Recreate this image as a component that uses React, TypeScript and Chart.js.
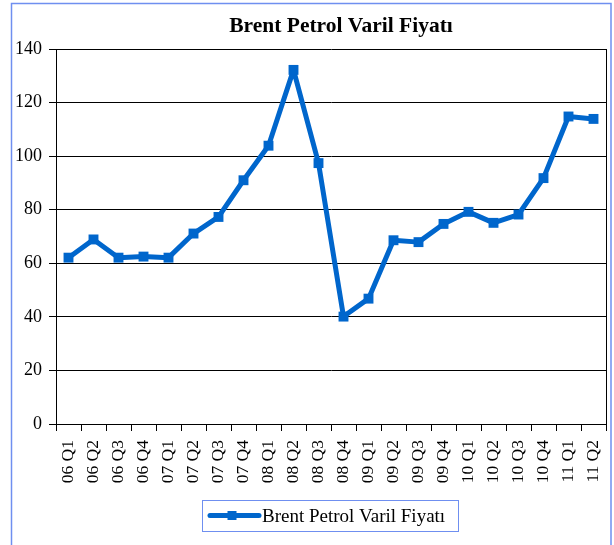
import React, { useEffect, useRef } from "react";
import { Chart, registerables } from "chart.js";

Chart.register(...registerables);

const TITLE = "Brent Petrol Varil Fiyatı";
const SERIES_NAME = "Brent Petrol Varil Fiyatı";
const categories = [
  "06 Q1", "06 Q2", "06 Q3", "06 Q4",
  "07 Q1", "07 Q2", "07 Q3", "07 Q4",
  "08 Q1", "08 Q2", "08 Q3", "08 Q4",
  "09 Q1", "09 Q2", "09 Q3", "09 Q4",
  "10 Q1", "10 Q2", "10 Q3", "10 Q4",
  "11 Q1", "11 Q2",
];
const prices = [
  62.1, 68.9, 62.1, 62.5,
  62.1, 71.1, 77.3, 91.0,
  103.9, 132.2, 97.4, 40.1,
  46.8, 68.6, 67.9, 74.7,
  79.2, 75.1, 78.2, 91.8,
  114.8, 113.9,
];
const yMin = 0;
const yMax = 140;
const yStep = 20;

const LINE_COLOR = "#0066cc";
const FRAME_COLOR = "#6f8ff0";
const FONT = "'Liberation Serif', 'Times New Roman', serif";

const decorPlugin = {
  id: "decor",
  afterDraw(chart: any) {
    const ctx = chart.ctx;
    const { chartArea } = chart;
    ctx.save();
    // outer frame
    ctx.strokeStyle = FRAME_COLOR;
    ctx.lineWidth = 1.5;
    ctx.beginPath();
    ctx.moveTo(11.5, 545);
    ctx.lineTo(11.5, 3.5);
    ctx.lineTo(611, 3.5);
    ctx.lineTo(611, 545);
    ctx.stroke();

    // right plot border
    ctx.strokeStyle = "#000";
    ctx.lineWidth = 1;
    const rx = Math.round(chartArea.right) + 0.5;
    ctx.beginPath();
    ctx.moveTo(rx, chartArea.top);
    ctx.lineTo(rx, chartArea.bottom);
    ctx.stroke();

    // title
    ctx.fillStyle = "#000";
    ctx.font = "bold 21.5px " + FONT;
    ctx.textAlign = "center";
    ctx.textBaseline = "alphabetic";
    ctx.fillText(TITLE, 341, 32);

    // legend
    ctx.strokeStyle = FRAME_COLOR;
    ctx.lineWidth = 1;
    ctx.strokeRect(202.5, 500.5, 256, 31);
    ctx.strokeStyle = LINE_COLOR;
    ctx.lineWidth = 5;
    ctx.lineCap = "round";
    ctx.beginPath();
    ctx.moveTo(210, 515.5);
    ctx.lineTo(259, 515.5);
    ctx.stroke();
    ctx.fillStyle = LINE_COLOR;
    ctx.fillRect(227.5, 511, 9, 9);
    ctx.fillStyle = "#000";
    ctx.font = "19px " + FONT;
    ctx.textAlign = "left";
    ctx.textBaseline = "middle";
    ctx.fillText(SERIES_NAME, 262, 517);
    ctx.restore();
  },
};

export default function App() {
  const ref = useRef<HTMLCanvasElement>(null);
  useEffect(() => {
    if (!ref.current) return;
    const chart = new Chart(ref.current, {
      type: "line",
      data: {
        labels: categories,
        datasets: [
          {
            label: SERIES_NAME,
            data: prices,
            borderColor: LINE_COLOR,
            backgroundColor: LINE_COLOR,
            borderWidth: 5,
            borderJoinStyle: "round",
            tension: 0,
            pointStyle: "rect",
            pointRadius: 7,
            pointBorderWidth: 0,
            pointBackgroundColor: LINE_COLOR,
            fill: false,
          },
        ],
      },
      options: {
        animation: false,
        responsive: false,
        maintainAspectRatio: false,
        layout: { padding: { top: 49, left: 0, right: 8, bottom: 51 } },
        plugins: {
          legend: { display: false },
          title: { display: false },
          tooltip: { enabled: false },
        },
        scales: {
          x: {
            type: "category",
            offset: true,
            grid: {
              offset: true,
              drawOnChartArea: false,
              drawTicks: true,
              tickLength: 7,
              color: "#000",
            },
            border: { display: true, color: "#000", width: 1 },
            ticks: {
              autoSkip: false,
              maxRotation: 90,
              minRotation: 90,
              padding: 9,
              color: "#000",
              font: { family: FONT, size: 17.5 },
            },
            afterFit(scale: any) {
              scale.height = 70;
              scale.paddingLeft = 0;
              scale.paddingRight = 0;
            },
          },
          y: {
            min: yMin,
            max: yMax,
            grid: {
              color: "#000",
              lineWidth: 1,
              drawTicks: true,
              tickLength: 7,
            },
            border: { display: true, color: "#000", width: 1 },
            ticks: {
              stepSize: yStep,
              padding: 7,
              color: "#000",
              font: { family: FONT, size: 18 },
            },
            afterFit(scale: any) {
              scale.width = 56;
            },
          },
        },
      },
      plugins: [decorPlugin],
    });
    return () => chart.destroy();
  }, []);
  return (
    <div style={{ position: "fixed", left: 0, top: 0, width: 614, height: 545, background: "#fff" }}>
      <canvas ref={ref} width={614} height={545} style={{ width: 614, height: 545, display: "block" }} />
    </div>
  );
}
